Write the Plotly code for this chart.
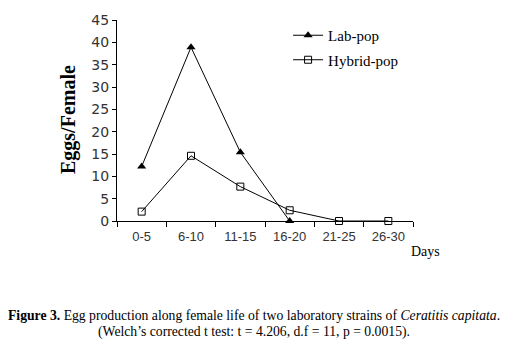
import plotly.graph_objects as go

days = ["0-5", "6-10", "11-15", "16-20", "21-25", "26-30"]
lab_days = ["0-5", "6-10", "11-15", "16-20"]
lab_pop = [12.2, 38.9, 15.4, 0]
hybrid_pop = [2.1, 14.6, 7.7, 2.4, 0, 0]
y_ticks = [0, 5, 10, 15, 20, 25, 30, 35, 40, 45]

fig = go.Figure()
fig.add_trace(go.Scatter(
    x=lab_days, y=lab_pop, name="Lab-pop", mode="lines+markers",
    legendgroup="a",
    line=dict(color="black", width=1),
    marker=dict(symbol="triangle-up", size=8, color="black"),
    cliponaxis=False,
))
fig.add_trace(go.Scatter(
    x=days, y=hybrid_pop, name="Hybrid-pop", mode="lines+markers",
    legendgroup="b",
    line=dict(color="black", width=1),
    marker=dict(symbol="square-open", size=7, color="black", line=dict(width=1)),
    cliponaxis=False,
))

fig.update_layout(
    width=508, height=341,
    margin=dict(l=117, r=95, t=12, b=120),
    paper_bgcolor="white", plot_bgcolor="white",
    showlegend=True,
    legend=dict(x=0.578, y=1.005, xanchor="left", yanchor="top",
                font=dict(family="Liberation Serif", size=15, color="black"),
                bgcolor="rgba(0,0,0,0)", traceorder="grouped", tracegroupgap=2),
    xaxis=dict(type="category", categoryorder="array", categoryarray=days,
               range=[-0.5, 5.5], showline=True, linecolor="black", linewidth=1,
               ticks="outside", ticklen=5, tickcolor="black", showgrid=False,
               tickson="boundaries", zeroline=False, ticklabelstandoff=3,
               tickfont=dict(family="Liberation Sans", size=13, color="#333")),
    yaxis=dict(range=[0, 45], tickvals=y_ticks, showline=True, linecolor="black",
               linewidth=1, ticks="outside", ticklen=4, tickcolor="black",
               showgrid=False, zeroline=False,
               tickfont=dict(family="DejaVu Sans", size=14, color="#333")),
    annotations=[
        dict(text="<b>Eggs/Female</b>", textangle=-90, x=68, y=116,
             font=dict(family="Liberation Serif", size=20, color="black")),
        dict(text="Days", x=425, y=253,
             font=dict(family="Liberation Serif", size=14, color="black")),
        dict(text="<b>Figure 3.</b> Egg production along female life of two laboratory strains of <i>Ceratitis capitata</i>.",
             x=254, y=319,
             font=dict(family="Liberation Serif", size=13.7, color="black")),
        dict(text="(Welch’s corrected t test: t = 4.206, d.f = 11, p = 0.0015).",
             x=254, y=336,
             font=dict(family="Liberation Serif", size=13.7, color="black")),
    ],
)

# convert pixel annotation positions to paper coordinates
pw = 508 - 117 - 95
ph = 341 - 12 - 120
for a in fig.layout.annotations:
    a.x = (a.x - 117) / pw
    a.y = (341 - 120 - a.y) / ph
    a.xref = "paper"
    a.yref = "paper"
    a.xanchor = "center"
    a.yanchor = "middle"
    a.showarrow = False

fig.write_html("out.html", config={"displayModeBar": False},
               post_script="document.body.style.margin='0';document.body.style.overflow='hidden';")
